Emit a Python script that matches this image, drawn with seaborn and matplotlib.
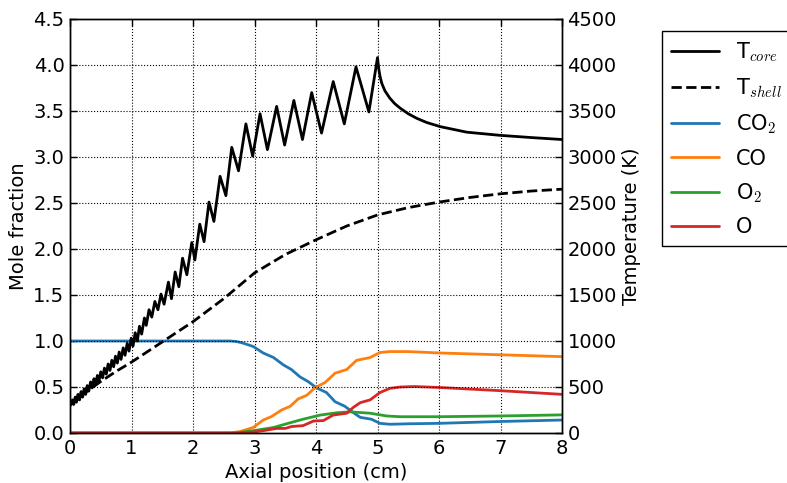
import numpy as np
import pandas as pd
import seaborn as sns
import matplotlib
matplotlib.use("Agg")
import matplotlib.pyplot as plt

# core temperature (K), read tooth by tooth off the plot
tcore_x = [0.00, 0.04, 0.06, 0.085, 0.105, 0.13, 0.155, 0.18, 0.205, 0.23,
           0.255, 0.28, 0.305, 0.335, 0.36, 0.39, 0.415, 0.445, 0.47, 0.50,
           0.53, 0.56, 0.59, 0.62, 0.65, 0.68, 0.71, 0.74, 0.77, 0.80,
           0.83, 0.865, 0.895, 0.93, 0.96, 0.995, 1.025, 1.06, 1.095, 1.13,
           1.165, 1.21, 1.24, 1.285, 1.33, 1.38, 1.43, 1.48, 1.53, 1.60,
           1.65, 1.71, 1.77, 1.83, 1.90, 1.98, 2.03, 2.11, 2.18, 2.26,
           2.34, 2.44, 2.535, 2.63, 2.74, 2.86, 2.97, 3.09, 3.21, 3.36,
           3.49, 3.64, 3.78, 3.93, 4.09, 4.28, 4.46, 4.65, 4.86, 5.00,
           5.02, 5.04, 5.07, 5.12, 5.2, 5.28, 5.37, 5.5, 5.64, 5.8,
           6.02, 6.45, 7.0, 7.53, 8.0]
tcore_K = [300, 360, 310, 390, 335, 420, 360, 450, 390, 480,
           420, 515, 455, 555, 490, 590, 525, 625, 560, 665,
           600, 705, 640, 750, 680, 790, 720, 835, 760, 880,
           800, 925, 845, 975, 890, 1030, 945, 1090, 1000, 1160,
           1075, 1250, 1170, 1340, 1260, 1430, 1340, 1510, 1400, 1640,
           1460, 1750, 1590, 1900, 1720, 2070, 1880, 2270, 2080, 2510,
           2300, 2790, 2580, 3105, 2850, 3360, 3010, 3470, 3080, 3550,
           3130, 3615, 3190, 3700, 3260, 3820, 3360, 3980, 3490, 4080,
           3960, 3880, 3800, 3720, 3640, 3580, 3530, 3470, 3420, 3375,
           3330, 3270, 3235, 3210, 3190]

tshell_x = [0.0, 0.25, 0.5, 0.75, 1.0, 1.5, 2.0, 2.5, 3.0, 3.5, 4.0, 4.5,
            5.0, 5.5, 6.0, 6.5, 7.0, 7.5, 8.0]
tshell_K = [300, 440, 560, 670, 770, 990, 1210, 1460, 1740, 1940, 2100, 2250,
            2370, 2450, 2510, 2560, 2600, 2630, 2650]

# mole fractions
co2_x = [0.0, 2.6, 2.7, 2.8, 2.98, 3.14, 3.31, 3.47, 3.60, 3.74, 3.87, 4.01,
         4.17, 4.31, 4.47, 4.61, 4.72, 4.90, 5.04, 5.2, 5.5, 6.0, 7.0, 8.0]
co2 = [1.0, 1.0, 0.995, 0.98, 0.94, 0.87, 0.82, 0.74, 0.69, 0.61, 0.56, 0.49,
       0.44, 0.34, 0.29, 0.22, 0.17, 0.15, 0.105, 0.095, 0.10, 0.105, 0.125, 0.141]

co_x = [0.0, 2.6, 2.76, 2.98, 3.14, 3.28, 3.44, 3.58, 3.71, 3.85, 3.98, 4.15,
        4.31, 4.50, 4.66, 4.88, 5.04, 5.2, 5.5, 6.0, 7.0, 8.0]
co = [0.0, 0.0, 0.015, 0.06, 0.14, 0.18, 0.25, 0.29, 0.37, 0.41, 0.49, 0.55,
      0.65, 0.69, 0.79, 0.82, 0.875, 0.885, 0.885, 0.87, 0.85, 0.83]

o2_x = [0.0, 2.7, 3.03, 3.31, 3.52, 3.79, 4.07, 4.34, 4.55, 4.88, 5.15, 5.37,
        6.0, 7.0, 8.0]
o2 = [0.0, 0.0, 0.03, 0.06, 0.10, 0.15, 0.195, 0.22, 0.23, 0.215, 0.185, 0.177,
      0.177, 0.185, 0.197]

o_x = [0.0, 2.7, 2.98, 3.14, 3.36, 3.50, 3.60, 3.79, 3.96, 4.12, 4.28, 4.50,
       4.61, 4.72, 4.88, 5.04, 5.2, 5.37, 5.6, 6.0, 7.0, 8.0]
o = [0.0, 0.0, 0.01, 0.025, 0.05, 0.05, 0.07, 0.08, 0.13, 0.135, 0.195, 0.215,
     0.28, 0.33, 0.36, 0.44, 0.485, 0.50, 0.505, 0.495, 0.46, 0.42]

species = [("CO$_2$", co2_x, co2, "#1f77b4"),
           ("CO", co_x, co, "#ff7f0e"),
           ("O$_2$", o2_x, o2, "#2ca02c"),
           ("O", o_x, o, "#d62728")]

sns.set_style("white", {"axes.edgecolor": "black",
                        "xtick.direction": "in", "ytick.direction": "in"})
plt.rcParams["font.family"] = ["DejaVu Sans"]
plt.rcParams["mathtext.fontset"] = "cm"
for key in ("text.color", "axes.labelcolor", "xtick.color", "ytick.color"):
    plt.rcParams[key] = "black"

fig = plt.figure(figsize=(7.87, 4.83), dpi=100)
ax1 = fig.add_axes([70 / 787, 50 / 483, 492 / 787, 414 / 483])
ax2 = ax1.twinx()

for name, xs, ys, col in species:
    df = pd.DataFrame({"x": xs, "y": ys})
    sns.lineplot(data=df, x="x", y="y", ax=ax1, color=col, linewidth=2, label=name)

sns.lineplot(data=pd.DataFrame({"x": tcore_x, "T": tcore_K}), x="x", y="T",
             ax=ax2, color="black", linewidth=2, label="T$_{core}$")
sns.lineplot(data=pd.DataFrame({"x": tshell_x, "T": tshell_K}), x="x", y="T",
             ax=ax2, color="black", linewidth=2, linestyle="--", label="T$_{shell}$")

for ax in (ax1, ax2):
    if ax.get_legend() is not None:
        ax.get_legend().remove()
    for s in ax.spines.values():
        s.set_color("black")
        s.set_linewidth(1)

ax1.set_xlim(0, 8)
ax1.set_ylim(0, 4.5)
ax2.set_ylim(0, 4500)
ax1.set_xticks(range(0, 9))
ax1.set_yticks(np.arange(0, 4.51, 0.5))
ax2.set_yticks(range(0, 4501, 500))

ax1.tick_params(axis="both", direction="in", length=5, width=1, labelsize=14,
                top=True, pad=4, color="black", labelcolor="black")
ax2.tick_params(axis="y", direction="in", length=5, width=1, labelsize=14,
                pad=4, color="black", labelcolor="black")

ax1.grid(True, axis="x", linestyle=":", color="k", linewidth=0.8)
ax2.grid(True, axis="y", linestyle=":", color="k", linewidth=0.8)

ax1.set_xlabel("Axial position (cm)", fontsize=14, color="black")
ax1.set_ylabel("Mole fraction", fontsize=14, color="black")
ax2.set_ylabel("Temperature (K)", fontsize=14, color="black")

h2, l2 = ax2.get_legend_handles_labels()
h1, l1 = ax1.get_legend_handles_labels()
leg = fig.legend(h2 + h1, l2 + l1, loc="upper left",
                 bbox_to_anchor=(662 / 787, 1 - 31 / 483), borderaxespad=0,
                 frameon=True, fancybox=False, edgecolor="black", framealpha=1,
                 fontsize=15, handlelength=2.3, handletextpad=0.8,
                 labelspacing=0.6, borderpad=0.45)
leg.get_frame().set_linewidth(1)
for t in leg.get_texts():
    t.set_color("black")

fig.savefig("out.png", dpi=100)
